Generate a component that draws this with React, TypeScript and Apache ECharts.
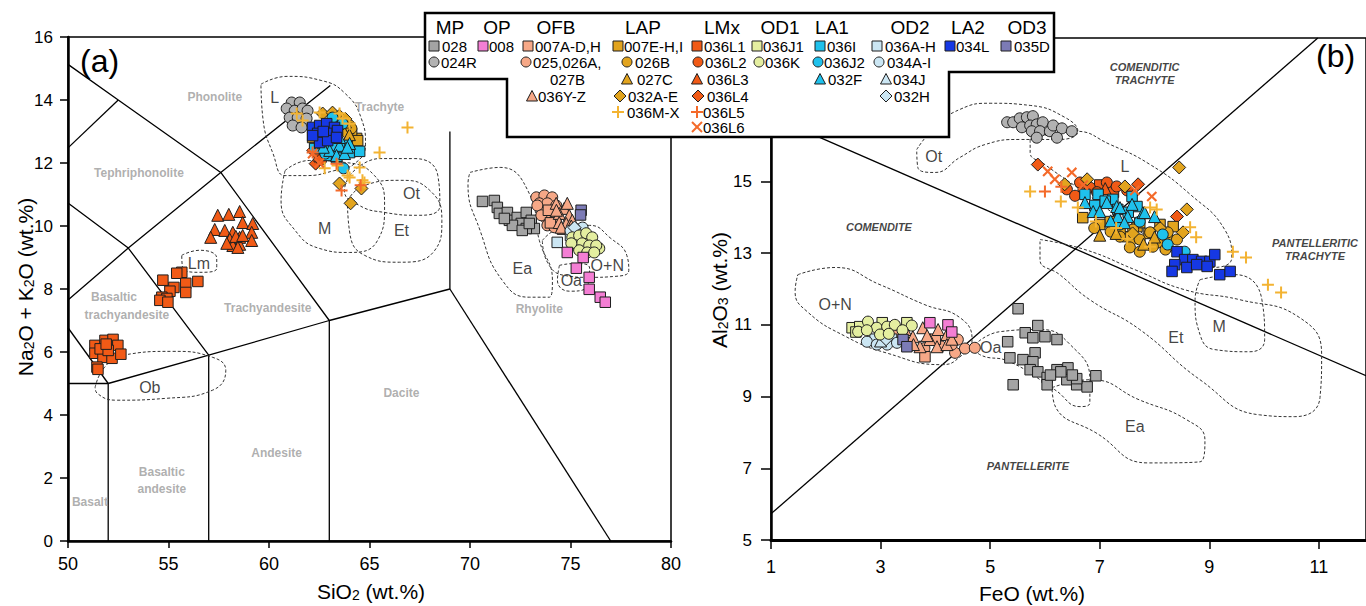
import React, { useEffect, useRef } from 'react';
import * as echarts from 'echarts';

const F = '"Liberation Sans", Arial, Helvetica, sans-serif';

// ---------------- Panel (a): SiO2 vs Na2O+K2O ----------------
const A_028 = [[70.62,10.78],[71.21,10.81],[71.36,10.59],[71.46,10.4],[71.86,10.43],[71.96,10.18],[72.35,10.27],[72.8,10.43],[72.55,10.08],[73.05,10.18],[73.2,9.92],[72.11,10.02],[72.8,9.92],[71.71,10.24],[72.6,9.86],[72.95,10.08]];
const A_024R = [[61.13,13.92],[61.53,13.92],[60.88,13.73],[61.28,13.66],[61.67,13.73],[61.92,13.66],[61.03,13.44],[61.43,13.44],[61.87,13.41],[61.18,13.19],[61.62,13.13]];
const A_008 = [[74.84,9.16],[75.63,9.0],[75.29,8.66],[75.93,8.37],[75.93,7.99],[76.48,7.74],[76.73,7.58]];
const A_007AD = [[74.0,10.1],[74.6,9.9],[73.9,10.5]];
const A_025 = [[73.3,10.91],[73.7,10.97],[74.09,10.91],[73.45,10.72],[73.85,10.72],[74.29,10.65],[73.6,10.43],[74.04,10.43],[73.8,10.24],[74.19,10.18],[73.85,10.02],[73.35,10.65],[73.55,10.34],[74.3,10.27],[74.2,9.96]];
const A_036YZ = [[74.29,10.72],[74.69,10.56],[74.84,10.72],[74.44,10.4],[74.94,10.34],[74.44,10.11],[74.79,10.08],[75.09,10.18],[74.54,9.96],[75.04,10.0],[74.3,10.5]];
const A_007EH = [[64.26,12.71],[64.36,12.78],[63.91,13.1],[63.61,13.25],[64.11,12.94],[62.17,12.81],[63.4,13.4],[64.41,12.71]];
const A_026B = [[63.9,12.95],[64.0,13.2],[63.6,13.4],[64.1,13.1]];
const A_027C = [[63.8,13.3],[64.0,12.9]];
const A_032AE = [[62.67,13.57],[63.16,13.6],[63.51,11.35],[64.06,10.72],[64.6,11.19],[63.5,13.5],[63.8,13.4]];
const A_036MX = [[61.38,13.57],[61.67,13.35],[62.52,13.6],[63.51,13.57],[62.77,11.83],[63.41,11.92],[63.91,11.6],[64.51,11.86],[64.01,11.54],[64.65,11.45],[64.75,11.38],[65.5,12.33],[66.89,13.13],[63.66,13.41],[64.01,13.25]];
const A_036L1 = [[51.34,6.21],[51.84,6.37],[52.24,6.4],[52.48,6.21],[51.34,5.96],[51.74,5.83],[52.19,5.8],[52.63,5.93],[51.44,5.52],[51.49,5.45],[51.6,6.1],[52.0,6.05],[51.9,6.25],[55.66,8.53],[55.41,8.5],[54.72,8.28],[55.86,8.18],[56.46,8.24],[55.27,8.05],[55.07,7.93],[55.86,7.89],[54.67,7.74],[54.92,7.7],[54.57,7.64],[54.97,7.58],[62.3,12.55],[62.5,12.2]];
const A_036L2 = [[62.6,12.1]];
const A_036L3 = [[57.45,10.34],[58.0,10.37],[58.54,10.46],[57.3,9.89],[57.8,9.86],[58.2,9.8],[58.69,10.11],[59.19,10.08],[57.1,9.64],[58.05,9.58],[58.54,9.64],[59.14,9.8],[58.2,9.38],[58.54,9.42],[59.14,9.54],[57.9,9.45],[58.35,9.67],[58.69,9.7],[58.45,9.32]];
const A_036L4 = [[62.32,11.98],[62.2,12.4]];
const A_036L5 = [[62.17,12.33],[63.36,11.98],[63.61,11.13],[64.56,11.29]];
const A_036L6 = [[62.17,12.3],[62.5,12.0]];
const A_036J1 = [[75.2,9.55],[75.6,9.6]];
const A_036K = [[75.09,9.64],[75.43,9.7],[75.78,9.77],[76.08,9.64],[76.43,9.29],[75.29,9.38],[75.58,9.45],[75.93,9.38],[76.28,9.38],[75.43,9.23],[75.83,9.16],[76.18,9.16],[75.04,9.45]];
const A_036I = [[62.92,12.24],[63.36,12.17],[64.01,12.33],[64.51,12.37],[62.27,12.46],[62.52,12.62],[63.76,12.56],[63.51,12.49],[63.1,12.4]];
const A_036J2 = [[63.16,13.44],[63.66,13.25],[63.71,11.83],[62.8,12.3],[63.3,12.55]];
const A_032F = [[63.02,12.4],[63.51,12.56],[64.01,12.62],[63.51,12.81],[63.36,12.24],[63.76,12.3],[63.9,12.5],[62.7,12.5]];
const A_036AH = [[74.34,9.48],[75.3,9.9],[75.0,9.7]];
const A_034AI = [[75.3,9.8],[75.6,9.95],[75.0,9.85]];
const A_034J = [[75.4,9.85]];
const A_032H = [[75.2,9.95]];
const A_034L = [[62.17,13.13],[62.52,13.19],[62.87,13.25],[63.26,13.13],[62.42,12.94],[62.87,12.94],[63.41,13.03],[62.52,12.65],[62.92,12.71],[62.17,12.87],[63.36,12.81],[62.7,13.0]];
const A_035D = [[75.53,10.5],[75.5,10.35]];

// TAS classification lines
const A_LINES = [
  [[52,0],[52,5]],
  [[57,0],[57,5.9]],
  [[63,0],[63,7]],
  [[50,5],[52,5]],
  [[52,5],[57,5.9],[63,7],[69,8]],
  [[69,8],[69,13]],
  [[69,8],[77,0]],
  [[52,5],[50,6.77]],
  [[57,5.9],[53,9.3],[50,10.73]],
  [[63,7],[57.6,11.7],[52.5,14],[50,15.13]],
  [[50,12.48],[52.5,14]],
  [[50,7.65],[53,9.3],[57.6,11.7],[63.05,14.46]],
];

// dashed comparison fields, panel (a)
const A_FIELD_L = [[59.6,14.5],[60.9,14.75],[62.6,14.62],[63.8,14.2],[64.6,13.4],[64.8,12.6],[64.3,12.0],[63.2,11.75],[61.8,11.6],[60.8,11.6],[60.2,12.3],[59.7,13.4]];
const A_FIELD_M = [[60.8,11.76],[62.0,12.08],[63.75,12.02],[65.25,11.6],[65.75,10.65],[65.4,9.54],[64.0,9.16],[62.5,9.29],[61.3,9.86],[60.6,10.81]];
const A_FIELD_OT = [[64.0,11.6],[65.5,12.14],[67.25,12.14],[68.4,11.6],[68.5,10.65],[67.5,10.34],[65.75,10.43],[64.5,10.65],[63.75,11.13]];
const A_FIELD_ET = [[63.9,10.81],[64.75,11.29],[66.5,11.45],[68.0,11.13],[68.6,10.18],[68.25,9.23],[66.5,8.85],[64.75,9.07],[64.0,9.86]];
const A_FIELD_EA = [[70.0,11.7],[71.5,11.86],[72.95,11.03],[73.45,9.54],[74.1,8.28],[73.95,7.74],[72.95,7.74],[71.6,8.28],[70.5,9.86],[69.9,11.35]];
const A_FIELD_OA = [[74.45,8.75],[75.2,8.81],[75.95,8.66],[75.8,8.05],[74.95,7.93],[74.35,8.28]];
const A_FIELD_ON = [[73.6,9.54],[74.45,9.92],[75.95,10.02],[77.0,9.61],[77.8,9.07],[77.9,8.59],[77.2,8.4],[75.95,8.37],[74.7,8.43],[73.85,8.85]];
const A_FIELD_LM = [[55.66,9.07],[56.56,9.23],[57.4,8.97],[57.4,8.66],[56.56,8.53],[55.7,8.69]];
const A_FIELD_OB = [[51.35,4.88],[51.8,5.5],[52.73,5.9],[55.2,6.02],[57.2,5.83],[57.85,5.42],[57.2,4.79],[54.9,4.53],[52.4,4.47],[51.45,4.69]];

const A_ROCK_NAMES: [string, number, number][] = [
  ['Phonolite',57.3,14.11],['Tephriphonolite',53.53,11.67],['Trachyte',65.5,13.79],
  ['Basaltic',52.29,7.74],['trachyandesite',52.93,7.17],['Trachyandesite',59.94,7.39],
  ['Dacite',66.59,4.69],['Andesite',60.38,2.79],['Basaltic\nandesite',54.67,1.92],
  ['Basalt',51.09,1.24],['Rhyolite',73.45,7.36],
];
const A_FIELD_NAMES: [string, number, number][] = [
  ['L',60.28,14.08],['M',62.77,9.92],['Ot',67.09,11.03],['Et',66.59,9.86],['Ea',72.6,8.66],
  ['Oa',75.04,8.28],['O+N',76.83,8.75],['Lm',56.51,8.81],['Ob',54.07,4.88],
];

// ---------------- Panel (b): FeO vs Al2O3 ----------------
const B_028 = [[5.51,11.45],[5.87,10.98],[5.32,10.53],[5.36,10.08],[5.64,10.78],[5.78,10.64],[6.0,10.67],[6.22,10.59],[5.6,10.03],[5.82,10.22],[5.78,9.97],[5.42,9.33],[5.73,9.75],[5.87,9.69],[6.04,9.53],[6.22,9.75],[6.42,9.8],[6.4,9.47],[6.58,9.33],[6.04,9.33],[6.93,9.58],[6.77,9.27],[6.58,9.5],[6.29,9.69],[6.1,9.6],[6.5,9.6]];
const B_024R = [[5.31,16.65],[5.42,16.65],[5.54,16.76],[5.67,16.79],[5.78,16.82],[5.58,16.51],[5.73,16.56],[5.85,16.59],[5.96,16.65],[5.76,16.4],[5.91,16.4],[6.09,16.4],[6.15,16.56],[6.31,16.48],[6.49,16.4],[5.85,16.22],[6.22,16.22]];
const B_008 = [[3.9,11.06],[4.23,11.0],[4.3,10.8]];
const B_007AD = [[3.81,10.11],[3.5,10.5],[4.0,10.6]];
const B_025 = [[4.41,10.59],[4.36,10.22],[4.54,10.34],[4.72,10.36],[4.1,10.4],[3.8,10.35],[4.3,10.45]];
const B_036YZ = [[3.45,10.87],[3.59,10.67],[3.77,10.92],[3.9,10.59],[4.05,10.87],[4.21,10.73],[3.26,10.81],[3.72,10.39],[4.03,10.39],[4.21,10.45],[3.6,10.45],[3.85,10.7],[4.3,10.6],[3.35,10.6]];
const B_007EH = [[6.69,13.99],[7.19,13.88],[7.5,13.46],[7.68,13.74],[7.37,13.66],[7.73,13.85],[8.1,13.8],[8.34,13.74],[8.23,13.38],[7.0,13.8],[7.9,13.55]];
const B_026B = [[7.59,13.38],[7.92,13.58],[8.06,13.3],[8.24,13.58],[8.41,13.38],[7.61,13.66],[7.37,13.46],[7.55,13.16],[7.73,13.38],[7.97,13.18],[7.73,13.04],[8.2,13.1],[7.2,13.6],[6.9,13.7]];
const B_027C = [[7.3,13.55],[7.8,13.25],[8.0,13.45],[7.0,13.5]];
const B_032AE = [[6.77,15.06],[7.46,14.86],[6.36,14.92],[8.45,15.39],[8.59,14.22],[8.52,13.58],[8.1,13.7],[7.6,13.55]];
const B_036MX = [[5.73,14.72],[6.29,14.44],[6.6,14.27],[6.93,13.88],[7.92,14.27],[8.04,14.22],[8.65,13.72],[8.76,13.44],[7.92,13.18],[9.43,13.04],[9.67,12.88],[10.07,12.12],[10.31,11.9],[7.3,13.7],[7.5,13.4]];
const B_036L1 = [[6.7,14.85],[7.0,14.9],[7.25,14.7]];
const B_036L2 = [[6.4,14.78],[6.64,14.97],[6.82,14.83],[7.13,14.97],[7.31,14.86],[6.95,14.7],[7.5,14.75],[6.55,14.6]];
const B_036L3 = [[7.1,14.8]];
const B_036L4 = [[5.87,15.47],[7.7,14.92],[8.41,14.02]];
const B_036L5 = [[6.0,14.72],[6.3,14.85]];
const B_036L6 = [[6.05,15.28],[6.18,15.06],[6.49,15.25],[7.95,14.58],[7.64,14.75],[6.7,14.9]];
const B_036J1 = [[2.48,10.92],[2.62,10.95],[3.03,11.06],[3.48,11.06],[2.55,10.8]];
const B_036K = [[2.59,10.81],[2.77,11.09],[2.93,10.92],[3.12,10.95],[3.26,11.0],[2.99,10.73],[3.57,10.98],[2.75,10.85],[3.4,10.85],[3.15,10.75]];
const B_036I = [[6.73,14.64],[6.97,14.64],[6.91,14.33],[7.24,14.5],[7.59,14.58],[7.68,14.3],[7.33,14.22],[7.52,14.14],[7.1,14.45]];
const B_036J2 = [[7.37,13.8],[7.73,13.88],[8.15,13.52],[8.24,13.24],[8.55,13.04]];
const B_032F = [[6.73,14.41],[6.88,14.16],[7.13,14.41],[7.31,14.3],[7.51,14.02],[7.0,14.16],[7.33,14.02],[7.79,14.13],[7.37,14.27],[7.59,14.36],[7.82,14.13],[8.0,14.02],[7.45,13.85],[7.2,13.9]];
const B_036AH = [[3.2,10.6],[2.9,10.6]];
const B_034AI = [[2.75,10.53],[2.93,10.45],[3.12,10.45],[3.3,10.5]];
const B_034J = [[3.0,10.55]];
const B_032H = [[3.1,10.6]];
const B_034L = [[8.41,13.04],[8.55,12.82],[8.7,12.82],[8.86,12.77],[9.01,12.77],[9.1,12.96],[8.37,12.68],[8.59,12.6],[8.77,12.68],[8.96,12.63],[8.32,12.49],[9.19,12.4],[9.38,12.49]];
const B_035D = [[3.41,10.59],[3.48,10.39]];

// Macdonald (1974) classification lines
const B_LINES = [
  [[1,5.73],[10.98,19]],
  [[1,16.82],[11.86,9.58]],
];

const B_FIELD_OT = [[3.66,15.89],[3.99,16.51],[4.45,17.01],[5.0,17.18],[5.73,17.12],[6.36,16.79],[6.6,16.4],[6.27,16.17],[5.54,16.17],[4.91,16.03],[4.45,15.67],[3.99,15.25],[3.68,15.39]];
const B_FIELD_L = [[5.73,16.17],[6.55,16.4],[7.19,16.03],[7.92,15.47],[8.65,14.64],[9.28,13.66],[9.41,12.88],[9.05,12.6],[8.28,13.1],[7.55,13.8],[6.64,14.78],[6.0,15.47],[5.73,15.81]];
const B_FIELD_ET = [[5.91,13.38],[6.73,13.1],[7.64,12.54],[8.55,11.98],[9.56,11.7],[10.65,11.2],[11.05,10.17],[11.02,8.97],[10.56,8.44],[9.92,8.49],[8.83,9.47],[7.73,10.87],[6.82,11.7],[6.27,12.4],[5.91,12.82]];
const B_FIELD_M = [[8.83,12.26],[9.47,12.4],[9.96,11.7],[10.01,10.59],[9.74,10.25],[9.1,10.31],[8.83,10.73],[8.74,11.7]];
const B_FIELD_ON = [[1.49,12.4],[2.17,12.6],[2.99,12.12],[3.81,11.56],[4.45,11.2],[4.67,10.59],[4.45,10.11],[4.12,9.89],[3.1,10.22],[2.37,10.67],[1.66,11.37],[1.44,11.93]];
const B_FIELD_OA = [[4.72,10.45],[5.18,10.81],[5.91,10.87],[6.46,10.45],[6.82,9.47],[6.82,8.83],[6.64,8.72],[6.18,9.19],[5.36,9.97],[4.81,10.17]];
const B_FIELD_EA = [[6.13,9.25],[6.84,9.47],[7.72,8.91],[8.59,8.35],[8.92,7.79],[8.83,7.18],[7.88,7.15],[6.93,7.99],[6.2,8.69]];

const B_ROCK_NAMES: [string, number, number][] = [
  ['COMENDITIC\nTRACHYTE',7.82,18.0],['COMENDITE',2.97,13.72],
  ['PANTELLERITIC\nTRACHYTE',10.93,13.09],['PANTELLERITE',5.69,7.07],
];
const B_FIELD_NAMES: [string, number, number][] = [
  ['Ot',3.97,15.7],['L',7.46,15.42],['Et',8.39,10.64],['M',9.18,10.95],
  ['O+N',2.17,11.56],['Oa',5.01,10.36],['Ea',7.64,8.16],
];

// ---------------- samples ----------------
const GROUPS = ['MP','OP','OFB','LAP','LMx','OD1','LA1','OD2','LA2','OD3'];

const C = {
  grey: '#a4a4a4', greyC: '#b2b2b2', pink: '#f47ed4', salmon: '#f6a887', gold: '#e2a41e',
  goldPlus: '#f3b332', orange: '#f15a16', orangePlus: '#f46a2a', yg: '#e4eea0',
  cyan: '#1fc1ec', lblue: '#cbe6f3', blue: '#1638e4', purple: '#7c7bb6',
};

type Shape = 'rect' | 'circle' | 'triangle' | 'diamond' | 'plus' | 'cross';
interface Sample { group: string; name: string; lines: string[]; shape: Shape; color: string; a: number[][]; b: number[][] }

const SAMPLES: Sample[] = [
  { group: 'MP', name: '028', lines: ['028'], shape: 'rect', color: C.grey, a: A_028, b: B_028 },
  { group: 'MP', name: '024R', lines: ['024R'], shape: 'circle', color: C.greyC, a: A_024R, b: B_024R },
  { group: 'OP', name: '008', lines: ['008'], shape: 'rect', color: C.pink, a: A_008, b: B_008 },
  { group: 'OFB', name: '007A-D,H', lines: ['007A-D,H'], shape: 'rect', color: C.salmon, a: A_007AD, b: B_007AD },
  { group: 'OFB', name: '025,026A,027B', lines: ['025,026A,', '027B'], shape: 'circle', color: C.salmon, a: A_025, b: B_025 },
  { group: 'OFB', name: '036Y-Z', lines: ['036Y-Z'], shape: 'triangle', color: C.salmon, a: A_036YZ, b: B_036YZ },
  { group: 'LAP', name: '007E-H,I', lines: ['007E-H,I'], shape: 'rect', color: C.gold, a: A_007EH, b: B_007EH },
  { group: 'LAP', name: '026B', lines: ['026B'], shape: 'circle', color: C.gold, a: A_026B, b: B_026B },
  { group: 'LAP', name: '027C', lines: ['027C'], shape: 'triangle', color: C.gold, a: A_027C, b: B_027C },
  { group: 'LAP', name: '032A-E', lines: ['032A-E'], shape: 'diamond', color: C.gold, a: A_032AE, b: B_032AE },
  { group: 'LAP', name: '036M-X', lines: ['036M-X'], shape: 'plus', color: C.goldPlus, a: A_036MX, b: B_036MX },
  { group: 'LMx', name: '036L1', lines: ['036L1'], shape: 'rect', color: C.orange, a: A_036L1, b: B_036L1 },
  { group: 'LMx', name: '036L2', lines: ['036L2'], shape: 'circle', color: C.orange, a: A_036L2, b: B_036L2 },
  { group: 'LMx', name: '036L3', lines: ['036L3'], shape: 'triangle', color: C.orange, a: A_036L3, b: B_036L3 },
  { group: 'LMx', name: '036L4', lines: ['036L4'], shape: 'diamond', color: C.orange, a: A_036L4, b: B_036L4 },
  { group: 'LMx', name: '036L5', lines: ['036L5'], shape: 'plus', color: C.orangePlus, a: A_036L5, b: B_036L5 },
  { group: 'LMx', name: '036L6', lines: ['036L6'], shape: 'cross', color: C.orangePlus, a: A_036L6, b: B_036L6 },
  { group: 'OD1', name: '036J1', lines: ['036J1'], shape: 'rect', color: C.yg, a: A_036J1, b: B_036J1 },
  { group: 'OD1', name: '036K', lines: ['036K'], shape: 'circle', color: C.yg, a: A_036K, b: B_036K },
  { group: 'LA1', name: '036I', lines: ['036I'], shape: 'rect', color: C.cyan, a: A_036I, b: B_036I },
  { group: 'LA1', name: '036J2', lines: ['036J2'], shape: 'circle', color: C.cyan, a: A_036J2, b: B_036J2 },
  { group: 'LA1', name: '032F', lines: ['032F'], shape: 'triangle', color: C.cyan, a: A_032F, b: B_032F },
  { group: 'OD2', name: '036A-H', lines: ['036A-H'], shape: 'rect', color: C.lblue, a: A_036AH, b: B_036AH },
  { group: 'OD2', name: '034A-I', lines: ['034A-I'], shape: 'circle', color: C.lblue, a: A_034AI, b: B_034AI },
  { group: 'OD2', name: '034J', lines: ['034J'], shape: 'triangle', color: C.lblue, a: A_034J, b: B_034J },
  { group: 'OD2', name: '032H', lines: ['032H'], shape: 'diamond', color: C.lblue, a: A_032H, b: B_032H },
  { group: 'LA2', name: '034L', lines: ['034L'], shape: 'rect', color: C.blue, a: A_034L, b: B_034L },
  { group: 'OD3', name: '035D', lines: ['035D'], shape: 'rect', color: C.purple, a: A_035D, b: B_035D },
];

const DRAW_ORDER = ['028','024R','025,026A,027B','007A-D,H','036Y-Z','036A-H','034A-I','034J','032H','036J1','036K','035D','008','036L4','036L1','036L2','036L3','007E-H,I','026B','027C','032A-E','036I','036J2','032F','034L','036M-X','036L5','036L6'];

// legend layout (pixel placement of the boxed legend)
const HEADER_X: Record<string, number> = { MP: 450, OP: 497, OFB: 556, LAP: 643, LMx: 722, OD1: 780, LA1: 832, OD2: 910, LA2: 968, OD3: 1027 };
const ROW_Y = [46, 62, 79, 96, 112, 127];
const LEGEND_POS: Record<string, [number, number, number]> = {
  '028': [434, 442, 0], '024R': [434, 441, 1],
  '008': [483, 489, 0],
  '007A-D,H': [528, 535, 0], '025,026A,027B': [526, 533, 1], '036Y-Z': [532, 538, 3],
  '007E-H,I': [618, 624, 0], '026B': [627, 635, 1], '027C': [627, 637, 2], '032A-E': [620, 628, 3], '036M-X': [618, 627, 4],
  '036L1': [697, 704, 0], '036L2': [698, 705, 1], '036L3': [697, 707, 2], '036L4': [698, 707, 3], '036L5': [697, 703, 4], '036L6': [697, 703, 5],
  '036J1': [757, 763, 0], '036K': [759, 765, 1],
  '036I': [820, 827, 0], '036J2': [818, 824, 1], '032F': [820, 828, 2],
  '036A-H': [877, 885, 0], '034A-I': [879, 887, 1], '034J': [886, 893, 2], '032H': [886, 894, 3],
  '034L': [950, 956, 0], '035D': [1006, 1014, 0],
};
const SECOND_LINE_X = 550;

const PLUS_PATH = 'path://M5,0H7V5H12V7H7V12H5V7H0V5H5Z';
const SYMBOL: Record<Shape, string> = { rect: 'rect', circle: 'circle', triangle: 'triangle', diamond: 'diamond', plus: PLUS_PATH, cross: PLUS_PATH };
const SIZE: Record<Shape, number> = { rect: 10.5, circle: 11, triangle: 12, diamond: 13, plus: 12, cross: 13 };

const closeRing = (pts: number[][]) => [...pts, pts[0]];

function legendSymbol(shape: Shape, color: string, cx: number, cy: number): any[] {
  const h = 5;
  const st = { fill: color, stroke: '#1e1e1e', lineWidth: 1 };
  const z = 101;
  switch (shape) {
    case 'rect': return [{ type: 'rect', z, shape: { x: cx - h, y: cy - h, width: 2 * h, height: 2 * h }, style: st }];
    case 'circle': return [{ type: 'circle', z, shape: { cx, cy, r: h }, style: st }];
    case 'triangle': return [{ type: 'polygon', z, shape: { points: [[cx, cy - h - 0.5], [cx + h + 0.5, cy + h], [cx - h - 0.5, cy + h]] }, style: st }];
    case 'diamond': return [{ type: 'polygon', z, shape: { points: [[cx, cy - h - 1], [cx + h + 1, cy], [cx, cy + h + 1], [cx - h - 1, cy]] }, style: st }];
    case 'plus': return [
      { type: 'line', z, shape: { x1: cx - 6, y1: cy, x2: cx + 6, y2: cy }, style: { stroke: color, lineWidth: 2 } },
      { type: 'line', z, shape: { x1: cx, y1: cy - 6, x2: cx, y2: cy + 6 }, style: { stroke: color, lineWidth: 2 } },
    ];
    default: return [
      { type: 'line', z, shape: { x1: cx - 5, y1: cy - 5, x2: cx + 5, y2: cy + 5 }, style: { stroke: color, lineWidth: 2 } },
      { type: 'line', z, shape: { x1: cx - 5, y1: cy + 5, x2: cx + 5, y2: cy - 5 }, style: { stroke: color, lineWidth: 2 } },
    ];
  }
}

function txt(x: number, y: number, text: string, font: string, align = 'left', extra: any = {}) {
  return {
    type: 'text', x, y, z: 101,
    style: { text, font, fill: '#000', align, verticalAlign: 'middle', textAlign: align, textVerticalAlign: 'middle', ...extra },
  };
}

const richFor = (lh: number) => ({
  n: { fontFamily: F, fontSize: 21, color: '#000', lineHeight: lh, verticalAlign: 'bottom' },
  s: { fontFamily: F, fontSize: 14, color: '#000', lineHeight: 14 - (26 - lh) / 2, verticalAlign: 'bottom' },
});

function buildOption() {
  const series: any[] = [];

  // classification lines
  const addLines = (lines: number[][][], idx: number) => lines.forEach((l) => series.push({
    type: 'line', xAxisIndex: idx, yAxisIndex: idx, data: l, symbol: 'none', silent: true, z: 1,
    lineStyle: { color: '#000', width: 1.3 },
  }));
  addLines(A_LINES, 0);
  addLines(B_LINES, 1);

  // dashed comparison fields
  const addField = (pts: number[][], idx: number) => series.push({
    type: 'line', xAxisIndex: idx, yAxisIndex: idx, data: closeRing(pts), smooth: 0.5, symbol: 'none', silent: true, z: 2,
    lineStyle: { color: '#333', width: 1, type: [3, 2] },
  });
  [A_FIELD_L, A_FIELD_M, A_FIELD_OT, A_FIELD_ET, A_FIELD_EA, A_FIELD_OA, A_FIELD_ON, A_FIELD_LM, A_FIELD_OB].forEach((f) => addField(f, 0));
  [B_FIELD_OT, B_FIELD_L, B_FIELD_ET, B_FIELD_M, B_FIELD_ON, B_FIELD_OA, B_FIELD_EA].forEach((f) => addField(f, 1));

  // text labels as data-placed scatter labels
  const addLabels = (items: [string, number, number][], idx: number, label: any) => series.push({
    type: 'scatter', xAxisIndex: idx, yAxisIndex: idx, symbolSize: 1, silent: true, z: 2,
    itemStyle: { color: 'rgba(0,0,0,0)' },
    label: { show: true, position: 'inside', formatter: '{b}', fontFamily: F, ...label },
    data: items.map(([t, x, y]) => ({ name: t, value: [x, y] })),
  });
  addLabels(A_ROCK_NAMES, 0, { fontSize: 12, fontWeight: 'bold', color: '#9a9a9a', lineHeight: 17 });
  addLabels(B_ROCK_NAMES, 1, { fontSize: 11, fontWeight: 'bold', fontStyle: 'italic', color: '#111', lineHeight: 13 });
  addLabels(A_FIELD_NAMES, 0, { fontSize: 16, color: '#111' });
  addLabels(B_FIELD_NAMES, 1, { fontSize: 16, color: '#111' });

  // samples
  DRAW_ORDER.forEach((nm) => {
    const s = SAMPLES.find((q) => q.name === nm)!;
    const crossLike = s.shape === 'plus' || s.shape === 'cross';
    [0, 1].forEach((idx) => series.push({
      type: 'scatter', name: s.name, xAxisIndex: idx, yAxisIndex: idx,
      data: idx === 0 ? s.a : s.b, silent: true, z: 3,
      symbol: SYMBOL[s.shape], symbolSize: SIZE[s.shape], symbolRotate: s.shape === 'cross' ? 45 : 0,
      itemStyle: crossLike
        ? { color: s.color, borderWidth: 0, opacity: 1 }
        : { color: s.color, borderColor: '#1e1e1e', borderWidth: 1, opacity: 1 },
    }));
  });

  // legend box (stepped outline)
  const graphic: any[] = [];
  graphic.push({
    type: 'polygon', z: 100,
    shape: { points: [[425, 13], [1054, 13], [1054, 72], [949, 72], [949, 137], [507, 137], [507, 79], [425, 79]] },
    style: { fill: '#fff', stroke: '#000', lineWidth: 2.5 },
  });
  GROUPS.forEach((g) => graphic.push(txt(HEADER_X[g], 27, g, `19px ${F}`, 'center', { lineHeight: 20 })));
  SAMPLES.forEach((s) => {
    const [sx, tx, row] = LEGEND_POS[s.name];
    const y = ROW_Y[row];
    graphic.push(...legendSymbol(s.shape, s.color, sx, y));
    graphic.push(txt(tx, y, s.lines[0], `15px ${F}`, 'left', { lineHeight: 14 }));
    if (s.lines[1]) graphic.push(txt(SECOND_LINE_X, ROW_Y[row + 1], s.lines[1], `15px ${F}`, 'left', { lineHeight: 14 }));
  });

  // panel letters
  graphic.push(txt(80, 61, '(a)', `32px ${F}`));
  graphic.push(txt(1316, 56, '(b)', `32px ${F}`));

  // axis titles with subscripts
  const axisTitle = (x: number, y: number, text: string, rot = 0, lh = 26) => ({
    type: 'text', x, y, rotation: rot, z: 50,
    style: { text, rich: richFor(lh), align: 'center', verticalAlign: 'middle', textAlign: 'center', textVerticalAlign: 'middle' },
  });
  graphic.push(axisTitle(371, 590, '{n|SiO}{s|2}{n| (wt.%)}', 0, 24));
  graphic.push(axisTitle(1032, 593, '{n|FeO (wt.%)}', 0, 22));
  graphic.push(axisTitle(23, 287, '{n|Na}{s|2}{n|O + K}{s|2}{n|O (wt.%)}', Math.PI / 2));
  graphic.push(axisTitle(717, 290, '{n|Al}{s|2}{n|O}{s|3}{n| (wt.%)}', Math.PI / 2));

  const axisCommon = {
    type: 'value',
    splitLine: { show: false },
    axisLine: { show: true, onZero: false, lineStyle: { color: '#000', width: 2.5 } },
    axisTick: { show: true, inside: false, lineStyle: { color: '#000', width: 1.5 } },
  };

  return {
    animation: false,
    backgroundColor: '#fff',
    grid: [
      { left: 68, top: 37, width: 603, height: 504, show: true, borderColor: '#000', borderWidth: 1.5, backgroundColor: 'transparent' },
      { left: 771, top: 38, width: 595, height: 502, show: true, borderColor: '#000', borderWidth: 1.5, backgroundColor: 'transparent' },
    ],
    xAxis: [
      { ...axisCommon, gridIndex: 0, min: 50, max: 80, interval: 5,
        axisTick: { ...axisCommon.axisTick, length: 7 },
        axisLabel: { fontFamily: F, fontSize: 18, color: '#000', margin: 14 } },
      { ...axisCommon, gridIndex: 1, min: 1, max: 11.86, interval: 2,
        axisLine: { show: true, onZero: false, lineStyle: { color: '#000', width: 3 } },
        axisTick: { ...axisCommon.axisTick, length: 9 },
        axisLabel: { fontFamily: F, fontSize: 18, color: '#000', margin: 18, showMaxLabel: false,
          formatter: (v: number) => (Math.abs(v - Math.round(v)) < 1e-6 && Math.round(v) % 2 === 1 ? String(Math.round(v)) : '') } },
    ],
    yAxis: [
      { ...axisCommon, gridIndex: 0, min: 0, max: 16, interval: 2,
        axisTick: { ...axisCommon.axisTick, length: 8 },
        axisLabel: { fontFamily: F, fontSize: 17, color: '#000', margin: 15 } },
      { ...axisCommon, gridIndex: 1, min: 5, max: 19, interval: 2,
        axisLine: { show: true, onZero: false, lineStyle: { color: '#000', width: 2.5 } },
        axisTick: { ...axisCommon.axisTick, length: 10 },
        // 17 and 19 sit behind the legend box in the reference
        axisLabel: { fontFamily: F, fontSize: 17, color: '#000', margin: 19,
          formatter: (v: number) => (v <= 15 ? String(v) : '') } },
    ],
    series,
    graphic,
  };
}

export default function App() {
  const ref = useRef<HTMLDivElement>(null);
  useEffect(() => {
    if (!ref.current) return;
    const chart = echarts.init(ref.current, null, { renderer: 'svg' });
    chart.setOption(buildOption() as any);
    return () => chart.dispose();
  }, []);
  return (
    <div
      ref={ref}
      style={{ position: 'absolute', left: 0, top: 0, width: 1366, height: 606, background: '#fff' }}
    />
  );
}
